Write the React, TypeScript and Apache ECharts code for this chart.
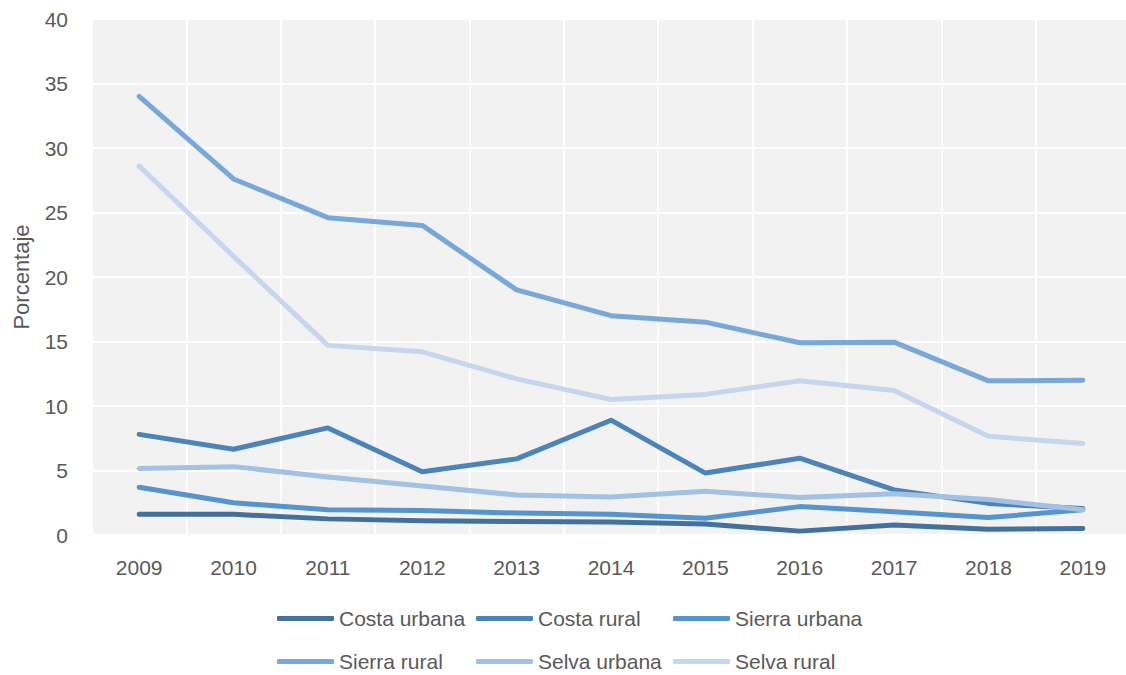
import React, { useEffect, useRef } from "react";
import * as echarts from "echarts";

const years = ["2009", "2010", "2011", "2012", "2013", "2014", "2015", "2016", "2017", "2018", "2019"];
const costaUrbana = [1.6, 1.6, 1.25, 1.1, 1.05, 1.0, 0.85, 0.3, 0.78, 0.45, 0.5];
const costaRural = [7.8, 6.65, 8.3, 4.9, 5.9, 8.9, 4.8, 5.95, 3.5, 2.45, 2.05];
const sierraUrbana = [3.7, 2.5, 1.95, 1.9, 1.7, 1.6, 1.3, 2.2, 1.8, 1.35, 1.95];
const sierraRural = [34.0, 27.6, 24.6, 24.0, 19.0, 17.0, 16.5, 14.9, 14.95, 11.95, 12.0];
const selvaUrbana = [5.15, 5.3, 4.5, 3.8, 3.1, 2.95, 3.4, 2.9, 3.2, 2.75, 1.95];
const selvaRural = [28.6, 21.6, 14.7, 14.2, 12.1, 10.5, 10.9, 11.95, 11.2, 7.65, 7.1];

const seriesNames = ["Costa urbana", "Costa rural", "Sierra urbana", "Sierra rural", "Selva urbana", "Selva rural"];
const seriesData = [costaUrbana, costaRural, sierraUrbana, sierraRural, selvaUrbana, selvaRural];
const colors = ["#41719C", "#4A84B9", "#5594CE", "#78A7DA", "#A3C0E5", "#C5D6EE"];

const FONT = "'Liberation Sans', Arial, sans-serif";
const TEXT = "#595959";

export default function App() {
  const ref = useRef<HTMLDivElement>(null);
  useEffect(() => {
    document.body.style.margin = "0";
    document.body.style.overflow = "hidden";
    const chart = echarts.init(ref.current!, null, { renderer: "svg" });
    const legendBase = {
      orient: "vertical" as const,
      top: 608,
      padding: 0,
      itemGap: 22,
      itemWidth: 57,
      itemHeight: 5,
      icon: "roundRect",
      textStyle: { fontSize: 21, color: TEXT, fontFamily: FONT, lineHeight: 21 },
    };
    chart.setOption({
      animation: false,
      textStyle: { fontFamily: FONT },
      grid: {
        left: 92,
        top: 19,
        width: 1038,
        height: 516,
        show: true,
        backgroundColor: "#F2F2F2",
        borderWidth: 0,
        containLabel: false,
        outerBoundsMode: "none",
      },
      legend: [
        { ...legendBase, left: 277, data: [seriesNames[0], seriesNames[3]] },
        { ...legendBase, left: 476, data: [seriesNames[1], seriesNames[4]] },
        { ...legendBase, left: 673, data: [seriesNames[2], seriesNames[5]] },
      ],
      xAxis: {
        type: "category",
        data: years,
        boundaryGap: true,
        axisLine: { show: false },
        axisTick: { show: false },
        axisLabel: { fontSize: 21, color: TEXT, fontFamily: FONT, margin: 22 },
        splitLine: { show: true, lineStyle: { color: "#FFFFFF", width: 2 } },
      },
      yAxis: {
        type: "value",
        min: 0,
        max: 40,
        interval: 5,
        name: "Porcentaje",
        nameLocation: "middle",
        nameGap: 60,
        nameTextStyle: { fontSize: 22, color: TEXT, fontFamily: FONT },
        axisLine: { show: false },
        axisTick: { show: false },
        axisLabel: { fontSize: 21, color: TEXT, fontFamily: FONT, margin: 24 },
        splitLine: { show: true, lineStyle: { color: "#FFFFFF", width: 2 } },
      },
      series: seriesNames.map((name, i) => ({
        name,
        type: "line",
        data: seriesData[i],
        symbol: "none",
        color: colors[i],
        lineStyle: { width: 5, color: colors[i], cap: "round", join: "round" },
      })),
    });
    return () => chart.dispose();
  }, []);
  return (
    <div style={{ width: 1126, height: 675, overflow: "hidden" }}>
      <div ref={ref} style={{ width: 1140, height: 675 }} />
    </div>
  );
}
